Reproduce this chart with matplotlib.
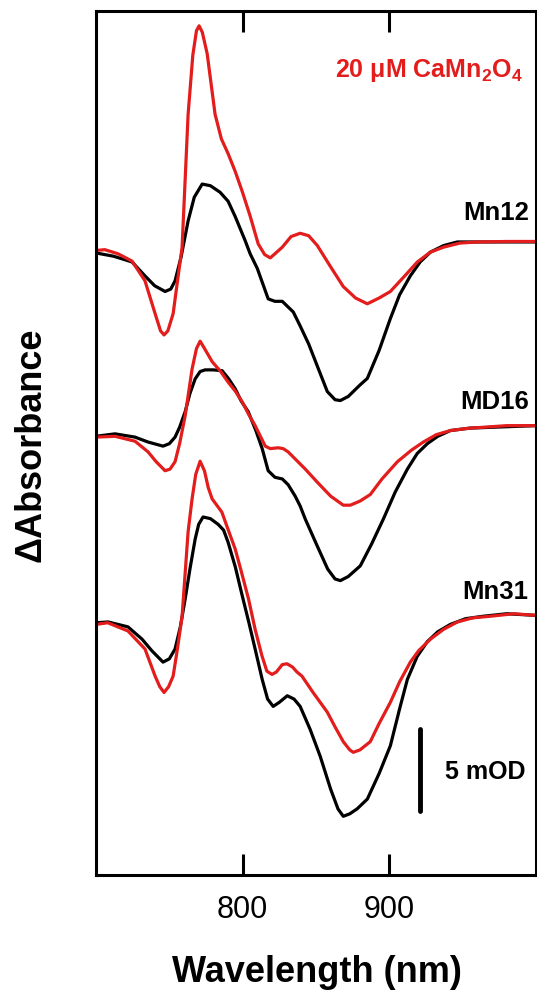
import matplotlib
matplotlib.use("Agg")
import matplotlib.pyplot as plt

plt.rcParams['font.family'] = ['Liberation Sans', 'DejaVu Sans']
plt.rcParams['mathtext.fontset'] = 'custom'
plt.rcParams['mathtext.rm'] = 'Liberation Sans:bold'
plt.rcParams['mathtext.it'] = 'Liberation Sans:bold'
plt.rcParams['mathtext.bf'] = 'Liberation Sans:bold'

# --- data: difference spectra in mOD ---
# Mn12
mn12_red_wl = [700, 706, 715, 724.6, 733.4, 740.3, 744, 746.4, 749, 752.6, 755.5, 758.7, 762.8, 766, 768.5,
               770.3, 772.5, 775.8, 781.2, 785.5, 790.1, 795, 799.7, 805.1, 810.6, 815, 818.8, 822, 827,
               833, 839.2, 845, 850.9, 860, 868.6, 877, 885, 893, 900.7, 910, 919.1, 928, 936.9, 948,
               960, 980, 1000]
mn12_red = [-0.4, -0.35, -0.6, -1.05, -2.25, -4.25, -5.3, -5.55, -5.3, -4.25, -2.3, -0.2, 7.9, 11.5, 13.0,
            13.3, 12.9, 11.6, 7.9, 6.4, 5.5, 4.4, 3.2, 1.7, 0.0, -0.65, -0.85, -0.6, -0.2,
            0.45, 0.65, 0.5, -0.1, -1.4, -2.6, -3.3, -3.65, -3.3, -2.9, -2.0, -1.1, -0.5, -0.2, 0.05,
            0.12, 0.15, 0.15]
mn12_blk_wl = [700, 712, 724.6, 733.4, 740, 747.1, 751, 753.9, 758, 762.8, 767, 772.4, 778, 784.6, 790.1,
               795, 801.7, 805.1, 810, 817.4, 822, 827, 834.5, 839.2, 845, 850.9, 857.7, 863, 866.6,
               872, 880, 885, 893, 900.7, 907, 914.3, 921, 928, 937, 946.4, 960, 980, 1000]
mn12_blk = [-0.55, -0.75, -1.1, -1.95, -2.55, -2.9, -2.75, -2.25, -0.8, 1.4, 2.85, 3.65, 3.55, 3.15, 2.6,
            1.65, 0.2, -0.6, -1.5, -3.35, -3.5, -3.5, -4.15, -5.0, -6.1, -7.45, -9.0, -9.5, -9.55,
            -9.3, -8.6, -8.2, -6.5, -4.55, -3.1, -1.95, -1.1, -0.5, -0.1, 0.12, 0.12, 0.12, 0.12]

# MD16
md16_red_wl = [700, 713, 726.6, 735.5, 741, 747.1, 750.5, 753.9, 757, 760.8, 765.5, 768.5, 771, 774,
               779.2, 785, 790.1, 795, 799.7, 804, 808.5, 815.4, 818.8, 824.2, 827.6, 831, 836, 842.7,
               850.9, 860, 868.6, 873.4, 880, 887, 895, 905.5, 915, 923.2, 932, 941.6, 955, 964.2,
               980, 1000]
md16_red = [-0.5, -0.45, -0.75, -1.4, -2.0, -2.55, -2.45, -2.0, -0.9, 0.8, 3.65, 4.9, 5.35, 4.9,
            4.1, 3.5, 2.85, 2.3, 1.65, 0.9, 0.2, -1.05, -1.2, -1.15, -1.2, -1.4, -1.85, -2.45,
            -3.25, -4.1, -4.65, -4.65, -4.4, -4.0, -3.05, -2.0, -1.3, -0.8, -0.35, -0.1, 0.05, 0.1,
            0.2, 0.2]
md16_blk_wl = [700, 713, 726.6, 735.5, 745.7, 750, 753.9, 757, 760.8, 764, 767.6, 771, 774.4, 780, 786,
               790.5, 794.9, 799, 803.8, 809, 813.3, 817.4, 822, 827, 831, 835.8, 839.2, 842.7, 850.9,
               858, 863, 866.6, 872, 880.2, 888, 895.9, 904, 912.3, 919, 925.9, 933, 941.6, 955, 970,
               1000]
md16_blk = [-0.45, -0.3, -0.5, -0.8, -1.05, -0.9, -0.5, 0.1, 1.05, 2.15, 3.05, 3.5, 3.6, 3.6, 3.55,
            3.05, 2.45, 1.7, 1.05, -0.1, -1.2, -2.55, -2.95, -3.05, -3.4, -4.1, -4.7, -5.5, -7.15,
            -8.55, -9.15, -9.25, -9.0, -8.35, -7.0, -5.5, -3.85, -2.45, -1.5, -0.9, -0.45, -0.1, 0.05, 0.1,
            0.2]

# Mn31
mn31_red_wl = [700, 708, 721.8, 733.4, 740.3, 743.5, 746.4, 749.5, 752.6, 755.5, 758.7, 762.8, 765.5,
               768, 771, 774, 776.5, 779.2, 782.5, 785.8, 790, 794.9, 799, 804, 808.5, 813.1, 816.5,
               820, 823, 827, 830.2, 834, 837, 840.4, 848, 857.7, 863, 868.6, 873, 875.4, 880, 887,
               893, 900.7, 907, 914.3, 920, 928, 937, 946.4, 957, 969, 985, 1000]
mn31_red = [-0.45, -0.35, -0.85, -1.95, -3.6, -4.25, -4.6, -4.25, -3.6, -1.95, 0.05, 5.2, 7.2,
            8.7, 9.5, 8.9, 7.9, 7.2, 6.8, 6.4, 5.35, 4.15, 2.8, 1.1, -0.75, -2.35, -3.3,
            -3.5, -3.35, -2.9, -2.85, -3.05, -3.35, -3.6, -4.6, -5.8, -6.7, -7.6, -8.1, -8.25, -8.1, -7.6,
            -6.5, -5.2, -3.95, -2.75, -2.05, -1.35, -0.75, -0.3, -0.05, 0.05, 0.2, 0.1]
mn31_blk_wl = [700, 708.2, 721.8, 731.4, 738, 745.7, 750, 753.9, 757.5, 760.8, 764, 767.6, 770, 773, 778,
               783.3, 787, 790.1, 795, 799.7, 804, 808.5, 813.3, 817, 820.8, 825, 830.4, 835, 839.2,
               846, 852.9, 860, 865, 868.6, 873, 878, 885, 893, 900.7, 907, 912.3, 919, 925.9, 933,
               941.6, 952, 964.2, 980, 1000]
mn31_blk = [-0.35, -0.3, -0.6, -1.35, -2.05, -2.75, -2.55, -1.95, -0.6, 1.1, 2.9, 4.75, 5.65, 6.1, 6.0,
            5.65, 5.3, 4.55, 3.05, 1.3, -0.25, -1.95, -3.8, -5.0, -5.45, -5.2, -4.8, -5.0, -5.45,
            -6.85, -8.5, -10.5, -11.7, -12.15, -12.0, -11.7, -11.1, -9.55, -7.85, -5.6, -3.8, -2.4, -1.5, -0.9,
            -0.45, -0.1, 0.05, 0.2, 0.1]

labels = ["Mn12", "MD16", "Mn31"]
offsets = [38.48, 27.2, 15.73]
label_y = [40.4, 28.9, 17.3]

red = '#e31c1c'

fig = plt.figure(figsize=(5.37, 9.95), dpi=100)
ax = fig.add_axes([96/537, 1-876/995, 440/537, 864/995])

traces = [(mn12_blk_wl, mn12_blk, mn12_red_wl, mn12_red),
          (md16_blk_wl, md16_blk, md16_red_wl, md16_red),
          (mn31_blk_wl, mn31_blk, mn31_red_wl, mn31_red)]
for (bw, b, rw, r), off, lab, ly in zip(traces, offsets, labels, label_y):
    ax.plot(bw, [v + off for v in b], color='black', lw=2.3, solid_joinstyle='round')
    ax.plot(rw, [v + off for v in r], color=red, lw=2.3, solid_joinstyle='round')
    ax.text(995, ly, lab, ha='right', va='center', fontsize=18.5, fontweight='bold')

ax.text(990.8, 48.7, "20 μM CaMn$_2$O$_4$", ha='right', va='baseline',
        fontsize=18, fontweight='bold', color=red)

# 5 mOD scale bar
ax.plot([921, 921], [3.9, 8.9], color='black', lw=3.5, solid_capstyle='round')
ax.text(938, 6.34, "5 mOD", ha='left', va='center', fontsize=18, fontweight='bold')

ax.set_xlim(700, 1000)
ax.set_ylim(0, 864/16.4)
ax.set_xticks([800, 900])
ax.set_yticks([])
ax.tick_params(axis='x', direction='in', length=15, width=2.2, top=True,
               labelsize=22, pad=14)
for s in ax.spines.values():
    s.set_linewidth(2.2)

fig.text(31/537, 1-445/995, "ΔAbsorbance", rotation=90, ha='center', va='center',
         fontsize=26, fontweight='bold')
fig.text(317/537, 1-973/995, "Wavelength (nm)", ha='center', va='center',
         fontsize=26, fontweight='bold')

fig.savefig("out.png", dpi=100)
